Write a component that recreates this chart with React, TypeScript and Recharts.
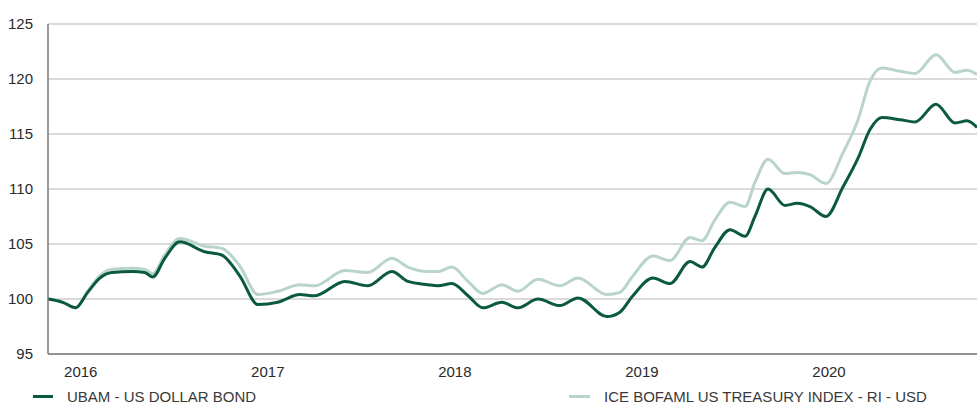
import { LineChart, Line, XAxis, YAxis, CartesianGrid } from 'recharts';

// dates as decimal years
const dates = [
  2015.825, 2015.904, 2015.973, 2016.037, 2016.102, 2016.166, 2016.273, 2016.342,
  2016.385, 2016.449, 2016.529, 2016.663, 2016.754, 2016.85, 2016.947, 2017.053,
  2017.171, 2017.251, 2017.412, 2017.535, 2017.663, 2017.749, 2017.856, 2017.909,
  2017.984, 2018.07, 2018.15, 2018.251, 2018.337, 2018.444, 2018.561, 2018.658,
  2018.813, 2018.882, 2018.947, 2019.059, 2019.15, 2019.257, 2019.321, 2019.39,
  2019.471, 2019.551, 2019.604, 2019.674, 2019.765, 2019.829, 2019.898, 2019.984,
  2020.075, 2020.155, 2020.219, 2020.283, 2020.38, 2020.46, 2020.572, 2020.674,
  2020.738, 2020.791,
];

const ubam = [
  100.0, 99.7, 99.2, 100.6, 101.9, 102.4, 102.5, 102.4,
  102.0, 103.7, 105.2, 104.3, 104.0, 102.1, 99.5, 99.7,
  100.4, 100.3, 101.6, 101.2, 102.5, 101.6, 101.3, 101.2,
  101.4, 100.3, 99.2, 99.7, 99.2, 100.0, 99.4, 100.1,
  98.4, 98.8, 100.2, 101.9, 101.4, 103.4, 102.9, 104.7,
  106.3, 105.7, 107.5, 110.0, 108.5, 108.7, 108.4, 107.5,
  110.2, 112.8, 115.4, 116.5, 116.3, 116.1, 117.7, 116.0,
  116.2, 115.6,
];

const ice = [
  100.0, 99.7, 99.2, 100.7, 102.1, 102.7, 102.8, 102.7,
  102.3, 104.0, 105.5, 104.8, 104.6, 103.0, 100.4, 100.7,
  101.3, 101.2, 102.6, 102.4, 103.7, 102.9, 102.5, 102.5,
  102.9, 101.6, 100.5, 101.3, 100.7, 101.8, 101.2, 101.9,
  100.4, 100.6, 102.0, 103.9, 103.5, 105.6, 105.3, 107.2,
  108.8, 108.4, 110.6, 112.7, 111.4, 111.5, 111.3, 110.5,
  113.3, 116.3, 119.8, 121.0, 120.7, 120.5, 122.2, 120.6,
  120.8, 120.4,
];

const yearTicks = [2016, 2017, 2018, 2019, 2020];
const valueTicks = [95, 100, 105, 110, 115, 120, 125];

const seriesNames = ['UBAM - US DOLLAR BOND', 'ICE BOFAML US TREASURY INDEX - RI - USD'];

const DARK = '#0b5a3d';
const LIGHT = '#b9d5c9';

const data = dates.map((d, i) => ({ date: d, ubam: ubam[i], ice: ice[i] }));

const font = '"Liberation Sans", Arial, sans-serif';

export default function App() {
  return (
    <div style={{ position: 'absolute', left: 0, top: 0, width: 977, height: 404, background: '#fff', fontFamily: font }}>
      <LineChart width={977} height={404} data={data} margin={{ top: 24, right: 0, left: 0, bottom: 20 }}>
        <CartesianGrid vertical={false} stroke="#b5b5b5" strokeWidth={1} />
        <XAxis
          dataKey="date"
          type="number"
          domain={[2015.825, 2020.791]}
          ticks={yearTicks}
          tickFormatter={(v) => String(v)}
          height={30}
          tickLine={false}
          tickSize={0}
          tickMargin={12}
          axisLine={{ stroke: '#7a7a7a', strokeWidth: 1.5 }}
          tick={{ fill: '#2a2a2a', fontSize: 15, fontFamily: font }}
          allowDataOverflow
        />
        <YAxis
          type="number"
          domain={[95, 125]}
          ticks={valueTicks}
          width={48}
          tickLine={false}
          tickSize={0}
          tickMargin={15}
          axisLine={{ stroke: '#7a7a7a', strokeWidth: 1.5 }}
          tick={{ fill: '#2a2a2a', fontSize: 15, fontFamily: font }}
        />
        <Line type="monotone" dataKey="ice" stroke={LIGHT} strokeWidth={3} dot={false} isAnimationActive={false} />
        <Line type="monotone" dataKey="ubam" stroke={DARK} strokeWidth={3} dot={false} isAnimationActive={false} />
      </LineChart>
      <div style={{ position: 'absolute', left: 33, top: 388, display: 'flex', alignItems: 'center', fontSize: 15, color: '#3a3a3a' }}>
        <span style={{ display: 'inline-block', width: 20, height: 3, background: DARK, marginRight: 14 }} />
        {seriesNames[0]}
      </div>
      <div style={{ position: 'absolute', left: 569, top: 388, display: 'flex', alignItems: 'center', fontSize: 15, color: '#3a3a3a' }}>
        <span style={{ display: 'inline-block', width: 21, height: 3, background: LIGHT, marginRight: 14 }} />
        {seriesNames[1]}
      </div>
    </div>
  );
}
